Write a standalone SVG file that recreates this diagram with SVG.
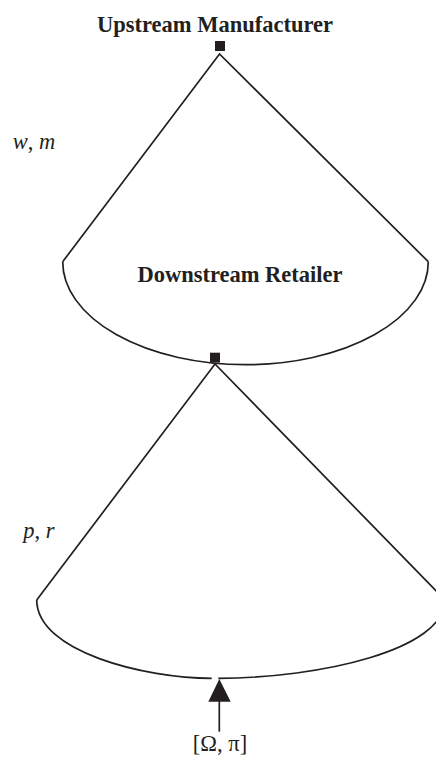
<svg xmlns="http://www.w3.org/2000/svg" width="436" height="757" viewBox="0 0 436 757">
<style>
.ln{fill:none;stroke:#231f20;stroke-width:1.7;stroke-linejoin:miter}
.nd{fill:#231f20}
.t{font-family:"Liberation Serif","Times New Roman",serif;font-size:22.5px;fill:#231f20}
.b{font-weight:bold}
.i{font-style:italic}
</style>
<rect width="436" height="757" fill="#ffffff"/>
<g id="connectors">
<path class="ln" d="M62.7,261.7 L219.5,54 L428.3,261.7"/>
<path class="ln" d="M62.7,261.7 A182.8,103 0 0 0 428.3,261.7"/>
<path class="ln" d="M36.7,600 L215,364 L445,600"/>
<path class="ln" d="M36.7,600 C37,652 145,678.3 211.7,678.3"/>
<path class="ln" d="M218.3,678.3 C320,678 445,650 445,600"/>
<line class="ln" x1="219.3" y1="700" x2="219.3" y2="731.7"/>
<polygon class="nd" points="219.3,679 208.3,701.7 230.7,701.7"/>
<text class="t i" x="12.7" y="149.3">w<tspan font-style="normal">,</tspan> m</text>
<text class="t i" x="23.3" y="538.3">p<tspan font-style="normal">,</tspan> r</text>
<text class="t" x="220" y="751" text-anchor="middle">[Ω, π]</text>
</g>
<g id="upstream">
<rect class="nd" x="215" y="41" width="10" height="10"/>
<text class="t b" x="215" y="31.7" text-anchor="middle">Upstream Manufacturer</text>
</g>
<g id="downstream">
<rect class="nd" x="210" y="352.7" width="10" height="9.8"/>
<text class="t b" x="240" y="281.7" text-anchor="middle">Downstream Retailer</text>
</g>
</svg>
